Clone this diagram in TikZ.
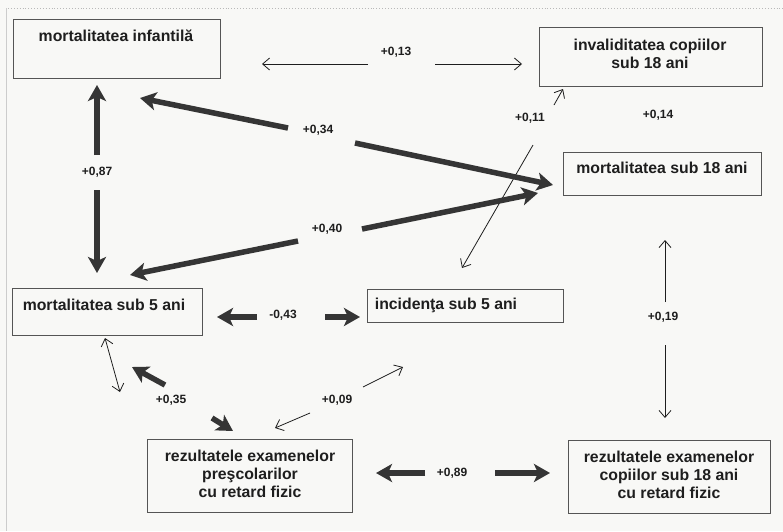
\documentclass[tikz,border=0pt]{standalone}
\usepackage{fontspec}
\setmainfont{Liberation Sans}
\usetikzlibrary{arrows.meta}
\definecolor{ink}{HTML}{1E1E1E}
\definecolor{thickc}{HTML}{353535}
\definecolor{boxc}{HTML}{555555}
\definecolor{paper}{HTML}{F8F8F6}
\begin{document}
\begin{tikzpicture}[x=1pt,y=-1pt,
  box/.style={draw=boxc, line width=0.9pt, rectangle, inner sep=0pt, anchor=north west},
  txt/.style={font=\bfseries\fontsize{15.8}{18}\selectfont, text=ink, align=center, inner sep=0pt},
  val/.style={font=\bfseries\fontsize{12}{13}\selectfont, text=ink, inner sep=0pt},
  thinarr/.style={draw=ink, line width=0.8pt, -{Straight Barb[length=7pt,width=12pt]}},
  thinboth/.style={draw=ink, line width=0.8pt, {Straight Barb[length=7pt,width=12pt]}-{Straight Barb[length=7pt,width=12pt]}},
  thickarr/.style={draw=thickc, line width=5.5pt, -{Stealth[length=16pt,width=18pt,inset=4pt]}}
]
\fill[paper] (0,0) rectangle (783,531);
\useasboundingbox (0,0) rectangle (783,531);
% frame
\draw[gray!55, dotted, line width=0.9pt] (8,8) -- (783,8);
\draw[gray!40, line width=0.6pt] (6,8) -- (6,531);

% boxes
\node[box, minimum width=207pt, minimum height=59pt] (mi)  at (13,19) {};
\node[box, minimum width=223pt, minimum height=59pt] (inv) at (539,27) {};
\node[box, minimum width=198pt, minimum height=43pt] (m18) at (563,152) {};
\node[box, minimum width=190pt, minimum height=47pt] (m5)  at (12,288) {};
\node[box, minimum width=196pt, minimum height=33pt] (inc) at (367,289) {};
\node[box, minimum width=205pt, minimum height=73pt] (rp)  at (147,439) {};
\node[box, minimum width=202pt, minimum height=73pt] (rc)  at (568,440) {};

% box texts
\node[txt] (tmi)  at (116,36)    {mortalitatea infantilă};
\node[txt] (tinv) at (650,53.5)  {invaliditatea copiilor\\sub 18 ani};
\node[txt] (tm18) at (662,168)   {mortalitatea sub 18 ani};
\node[txt] (tm5)  at (104,305)   {mortalitatea sub 5 ani};
\node[txt] (tinc) at (446,305)   {incidenţa sub 5 ani};
\node[txt] (trp)  at (250,474)   {rezultatele examenelor\\preşcolarilor\\cu retard fizic};
\node[txt] (trc)  at (669,474.5) {rezultatele examenelor\\copiilor sub 18 ani\\cu retard fizic};

% values
\node[val] (v13) at (396,52)  {+0,13};
\node[val] (v34) at (318,130) {+0,34};
\node[val] (v87) at (97,172)  {+0,87};
\node[val] (v11) at (530,118) {+0,11};
\node[val] (v14) at (658,115) {+0,14};
\node[val] (v40) at (327,229) {+0,40};
\node[val] (v19) at (663,317) {+0,19};
\node[val] (v43) at (283,315) {-0,43};
\node[val] (v35) at (171,400) {+0,35};
\node[val] (v09) at (337,400) {+0,09};
\node[val] (v89) at (452,473) {+0,89};

% connector end points
\coordinate (c13a) at (368,64);  \coordinate (c13b) at (262,64);
\coordinate (c13c) at (435,64);  \coordinate (c13d) at (522,64);
\coordinate (c11a) at (533,145); \coordinate (c11b) at (462,268);
\coordinate (c11c) at (554,105); \coordinate (c11d) at (563,89);
\coordinate (c19a) at (665,302); \coordinate (c19b) at (665,240);
\coordinate (c19c) at (665,345); \coordinate (c19d) at (665,418);
\coordinate (cxa)  at (105,338); \coordinate (cxb)  at (120,392);
\coordinate (c09a) at (310,413); \coordinate (c09b) at (275,428);
\coordinate (c09c) at (363,387); \coordinate (c09d) at (403,367);

\coordinate (c87a) at (97,155);  \coordinate (c87b) at (97,85);
\coordinate (c87c) at (97,190);  \coordinate (c87d) at (97,273);
\coordinate (c34a) at (288,128); \coordinate (c34b) at (140,98);
\coordinate (c34c) at (355,143); \coordinate (c34d) at (553,185);
\coordinate (c40a) at (298,241); \coordinate (c40b) at (130,275);
\coordinate (c40c) at (362,229); \coordinate (c40d) at (538,193);
\coordinate (c43a) at (257,317); \coordinate (c43b) at (217,317);
\coordinate (c43c) at (325,317); \coordinate (c43d) at (360,317);
\coordinate (c35a) at (165,385); \coordinate (c35b) at (132,367);
\coordinate (c35c) at (212,418); \coordinate (c35d) at (233,431);
\coordinate (c89a) at (425,473); \coordinate (c89b) at (376,473);
\coordinate (c89c) at (495,473); \coordinate (c89d) at (550,473);

% thin connectors
\draw[thinarr] (c13a) -- (c13b);
\draw[thinarr] (c13c) -- (c13d);
\draw[thinarr] (c11a) -- (c11b);
\draw[thinarr] (c11c) -- (c11d);
\draw[thinarr] (c19a) -- (c19b);
\draw[thinarr] (c19c) -- (c19d);
\draw[thinboth] (cxa) -- (cxb);
\draw[thinarr] (c09a) -- (c09b);
\draw[thinarr] (c09c) -- (c09d);

% thick connectors
\draw[thickarr] (c87a) -- (c87b);
\draw[thickarr] (c87c) -- (c87d);
\draw[thickarr] (c34a) -- (c34b);
\draw[thickarr] (c34c) -- (c34d);
\draw[thickarr] (c40a) -- (c40b);
\draw[thickarr] (c40c) -- (c40d);
\draw[thickarr] (c43a) -- (c43b);
\draw[thickarr] (c43c) -- (c43d);
\draw[thickarr] (c35a) -- (c35b);
\draw[thickarr] (c35c) -- (c35d);
\draw[thickarr] (c89a) -- (c89b);
\draw[thickarr] (c89c) -- (c89d);
\end{tikzpicture}
\end{document}
